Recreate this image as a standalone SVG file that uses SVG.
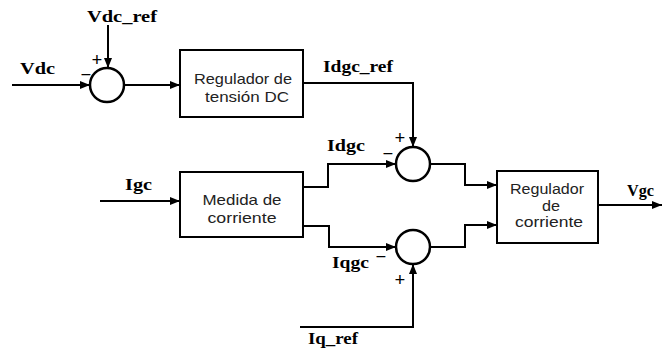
<svg xmlns="http://www.w3.org/2000/svg" width="662" height="353" viewBox="0 0 662 353">
<defs>
<marker id="arr" markerUnits="userSpaceOnUse" markerWidth="10" markerHeight="8" refX="10" refY="4" orient="auto">
<path d="M0,0 L10,4 L0,8 z" fill="#000"/>
</marker>
<style>
.blk{fill:#fff;stroke:#000;stroke-width:2}
.sum{fill:#fff;stroke:#000;stroke-width:2.5}
.ln{fill:none;stroke:#000;stroke-width:2;marker-end:url(#arr)}
.lab{font-family:"Liberation Serif",serif;font-size:17px;font-weight:bold;fill:#000}
.sg{font-family:"Liberation Serif",serif;font-size:19px;font-weight:bold;fill:#000;text-anchor:middle}
.bt{font-family:"Liberation Sans",sans-serif;font-size:15px;fill:#222;text-anchor:middle}
.bt3{font-family:"Liberation Sans",sans-serif;font-size:14px;fill:#222;text-anchor:middle}
</style>
</defs>
<rect width="662" height="353" fill="#fff"/>
<g id="connectors">
<path class="ln" d="M12 85 H90"/>
<path class="ln" d="M108 25 V68"/>
<path class="ln" d="M124 85 H180"/>
<path class="ln" d="M303 83 H413 V147"/>
<path class="ln" d="M303 187 H328 V164 H396"/>
<path class="ln" d="M430 164 H465 V185 H497"/>
<path class="ln" d="M303 226 H329 V247 H396"/>
<path class="ln" d="M300 327 H413 V264"/>
<path class="ln" d="M430 247 H465 V225 H497"/>
<path class="ln" d="M100 201 H180"/>
<path class="ln" d="M598 205 H662"/>
</g>
<g id="sum1">
<circle class="sum" cx="107" cy="85" r="17"/>
<text class="sg" x="97" y="66">+</text>
<text class="sg" x="86" y="81">−</text>
</g>
<g id="sum2">
<circle class="sum" cx="413" cy="164" r="17"/>
<text class="sg" x="400" y="144">+</text>
<text class="sg" x="388" y="160">−</text>
</g>
<g id="sum3">
<circle class="sum" cx="413" cy="247" r="17"/>
<text class="sg" x="381" y="263">−</text>
<text class="sg" x="400" y="286">+</text>
</g>
<g id="reg_dc">
<rect class="blk" x="180" y="50" width="123" height="67"/>
<text class="bt" x="243" y="84" textLength="98" lengthAdjust="spacingAndGlyphs">Regulador de</text>
<text class="bt" x="247" y="102" textLength="84" lengthAdjust="spacingAndGlyphs">tensión DC</text>
</g>
<g id="medida">
<rect class="blk" x="180" y="172" width="123" height="65"/>
<text class="bt" x="242" y="205" textLength="79" lengthAdjust="spacingAndGlyphs">Medida de</text>
<text class="bt" x="242" y="223" textLength="69" lengthAdjust="spacingAndGlyphs">corriente</text>
</g>
<g id="reg_corr">
<rect class="blk" x="497" y="171" width="101" height="72"/>
<text class="bt3" x="547" y="194" textLength="74" lengthAdjust="spacingAndGlyphs">Regulador</text>
<text class="bt3" x="551" y="211" textLength="18" lengthAdjust="spacingAndGlyphs">de</text>
<text class="bt3" x="549" y="227" textLength="68" lengthAdjust="spacingAndGlyphs">corriente</text>
</g>
<g id="labels">
<text class="lab" x="20" y="74" textLength="35" lengthAdjust="spacingAndGlyphs">Vdc</text>
<text class="lab" x="87" y="22" textLength="70" lengthAdjust="spacingAndGlyphs">Vdc_ref</text>
<text class="lab" x="323" y="72" textLength="70" lengthAdjust="spacingAndGlyphs">Idgc_ref</text>
<text class="lab" x="327" y="151" textLength="38" lengthAdjust="spacingAndGlyphs">Idgc</text>
<text class="lab" x="125" y="190" textLength="27" lengthAdjust="spacingAndGlyphs">Igc</text>
<text class="lab" x="332" y="268" textLength="37" lengthAdjust="spacingAndGlyphs">Iqgc</text>
<text class="lab" x="308" y="344" textLength="50" lengthAdjust="spacingAndGlyphs">Iq_ref</text>
<text class="lab" x="627" y="196" textLength="27" lengthAdjust="spacingAndGlyphs">Vgc</text>
</g>
</svg>
